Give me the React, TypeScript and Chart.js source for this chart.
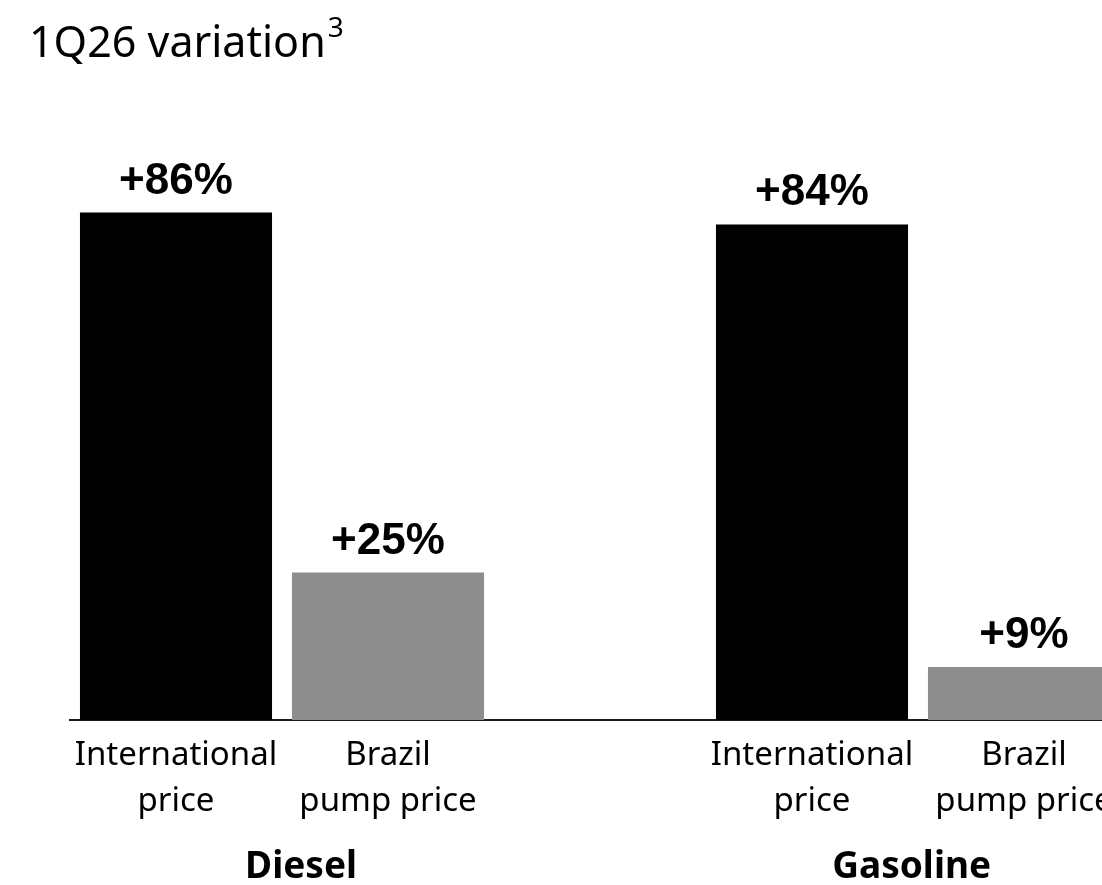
import React, { useEffect, useRef } from 'react';
import { Chart, registerables } from 'chart.js';

Chart.register(...registerables);

const categories: (string | string[])[] = [
  ['International', 'price'],
  ['Brazil', 'pump price'],
  '',
  ['International', 'price'],
  ['Brazil', 'pump price'],
];
const values: (number | null)[] = [86, 25, null, 84, 9];
const valueLabels = ['+86%', '+25%', '', '+84%', '+9%'];
const barColors = ['#000000', '#8e8d8e', '#ffffff', '#000000', '#8e8d8e'];
const groupLabels = ['Diesel', 'Gasoline'];
const titleText = '1Q26 variation';
const titleSup = '3';

const overlayPlugin = {
  id: 'overlay',
  afterDatasetsDraw(chart: any) {
    const ctx = chart.ctx as CanvasRenderingContext2D;
    const meta = chart.getDatasetMeta(0);
    ctx.save();
    ctx.fillStyle = '#000';
    ctx.textAlign = 'center';
    ctx.textBaseline = 'alphabetic';
    ctx.font = 'bold 44px "Liberation Sans", Arial, sans-serif';
    meta.data.forEach((bar: any, i: number) => {
      if (values[i] == null) return;
      ctx.fillText(valueLabels[i], bar.x, bar.y - 19);
    });

    const xs = chart.scales.x;
    const anchors = [0.59, 3.47];
    ctx.font = 'bold 37px "Noto Sans", sans-serif';
    groupLabels.forEach((g, i) => {
      ctx.fillText(g, xs.getPixelForValue(anchors[i]), 878);
    });

    ctx.textAlign = 'left';
    ctx.font = '43px "Noto Sans", sans-serif';
    ctx.fillText(titleText, 29, 57);
    const w = ctx.measureText(titleText).width;
    ctx.font = '28px "Noto Sans", sans-serif';
    ctx.fillText(titleSup, 29 + w + 2, 37);
    ctx.restore();
  },
};

export default function App() {
  const canvasRef = useRef<HTMLCanvasElement | null>(null);

  useEffect(() => {
    if (!canvasRef.current) return;
    const chart = new Chart(canvasRef.current, {
      type: 'bar',
      data: {
        labels: categories as any,
        datasets: [
          {
            data: values as any,
            backgroundColor: barColors,
            borderWidth: 0,
            barPercentage: 0.906,
            categoryPercentage: 1,
          },
        ],
      },
      options: {
        responsive: false,
        animation: false,
        layout: { padding: { left: 70, right: 30, top: 130, bottom: 0 } },
        plugins: {
          legend: { display: false },
          tooltip: { enabled: false },
          title: { display: false },
        },
        scales: {
          x: {
            type: 'category',
            offset: true,
            grid: { display: false, drawTicks: false },
            border: { display: true, color: '#1a1a1a', width: 2 },
            ticks: {
              color: '#000',
              font: { family: '"Noto Sans", sans-serif', size: 33, lineHeight: 1.38 },
              padding: 13,
              maxRotation: 0,
              autoSkip: false,
            },
            afterFit: (s: any) => {
              s.height = 165;
            },
          },
          y: { display: false, min: 0, max: 100 },
        },
      },
      plugins: [overlayPlugin],
    });
    return () => chart.destroy();
  }, []);

  return (
    <div
      style={{
        position: 'fixed',
        left: 0,
        top: 0,
        width: 1102,
        height: 885,
        overflow: 'hidden',
        background: '#fff',
      }}
    >
      <canvas
        ref={canvasRef}
        width={1160}
        height={885}
        style={{ position: 'absolute', left: 0, top: 0, width: 1160, height: 885 }}
      />
    </div>
  );
}
